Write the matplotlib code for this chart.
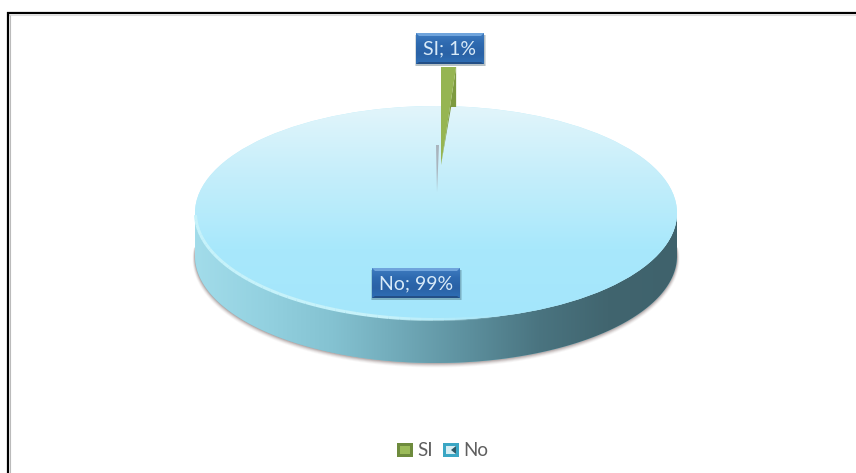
import numpy as np
import matplotlib
matplotlib.use("Agg")
import matplotlib.pyplot as plt
from matplotlib.colors import LinearSegmentedColormap
from matplotlib.patches import Ellipse, Polygon, Rectangle

categorias = ["SI", "No"]
porcentajes = [1, 99]

# pie geometry in picture pixels
CX, CY = 436, 213
RX, RY = 241, 107
ALTO = 43
APEX_Y = 192

plt.rcParams["font.family"] = ["Lato", "DejaVu Sans"]

fig = plt.figure(figsize=(8.56, 4.73), dpi=100, facecolor="white")
ax = fig.add_axes([0, 0, 1, 1])
ax.set_axis_off()


def gradiente(colores, extent, clip, vertical=True, zorder=2):
    cmap = LinearSegmentedColormap.from_list("g", colores)
    t = np.linspace(0, 1, 256)
    datos = t[:, None] if vertical else t[None, :]
    im = ax.imshow(datos, cmap=cmap, extent=extent, origin="upper", aspect="auto",
                   interpolation="bilinear", zorder=zorder)
    im.set_clip_path(clip)
    return im


def caja(x, y, w, h, texto):
    # etiqueta azul con bisel
    for i in range(4):
        ax.add_patch(Rectangle((x - 1 + i * 0.3, y + 2), w + 2, h, fc="#30505f", alpha=0.10, ec="none", zorder=7))
    r = Rectangle((x, y), w, h, fc="#2f69ad", ec="none", zorder=8)
    ax.add_patch(r)
    gradiente(["#3f7cc0", "#2e6ab0", "#2a62a6", "#2f6fb6"], (x, x + w, y + h, y), r, zorder=8)
    ax.add_patch(Polygon([(x, y), (x + w, y), (x + w - 3, y + 3), (x + 3, y + 3)], fc="#6fa4dc", ec="none", zorder=9))
    ax.add_patch(Polygon([(x, y + h), (x + w, y + h), (x + w - 3, y + h - 2), (x + 3, y + h - 2)], fc="#234f86", ec="none", zorder=9))
    ax.text(x + w / 2, y + h / 2 + 0.5, texto, color="#d8eaf8", fontsize=14, ha="center", va="center", zorder=10)


fracc = np.array(porcentajes) / sum(porcentajes)
ang_si = 2 * np.pi * fracc[0]

# sombra bajo la tarta
t = np.linspace(-0.1, np.pi + 0.1, 200)
for d, a in [(5, 0.05), (4, 0.08), (3, 0.12), (2, 0.16), (1, 0.2)]:
    xs = CX + (RX + d * 0.5) * np.cos(t)
    ys = CY + ALTO + d * 0.6 + (RY + d * 0.3) * np.sin(t)
    ax.add_patch(Polygon(np.c_[xs, ys], fc="#6b5a5a", alpha=a, ec="none", zorder=1))

# pared lateral
t = np.linspace(0, np.pi, 200)
xs = CX + RX * np.cos(t)
ys = CY + RY * np.sin(t)
lateral = Polygon(np.r_[np.c_[xs, ys + ALTO], np.c_[xs, ys][::-1]], fc="#7fc0d0", ec="none", zorder=2)
ax.add_patch(lateral)
gradiente(["#a2dcea", "#93d1e0", "#84c2d1", "#70a9b8", "#5c8f9d", "#4a7480", "#41656f", "#3f626c"],
          (CX - RX, CX + RX, CY + RY + ALTO, CY), lateral, vertical=False)

# cara superior
sup = Ellipse((CX, CY), 2 * RX, 2 * RY, fc="#b8ecfb", ec="none", zorder=3)
ax.add_patch(sup)
gradiente(["#e2f5fb", "#c4eefa", "#a8e8fc", "#a4e6fb"], (CX - RX, CX + RX, CY + RY, CY - RY), sup, zorder=3)

# borde claro frontal, sólo hacia la izquierda y desvaneciéndose
bordes = np.linspace(np.pi * 0.4, np.pi - 0.02, 41)
for a0, a1 in zip(bordes[:-1], bordes[1:]):
    tt = np.linspace(a0, a1, 6)
    ax.plot(CX + (RX - 0.5) * np.cos(tt), CY + (RY - 0.5) * np.sin(tt), color="#c6f2fa",
            lw=2.2, alpha=min(1, (a0 - bordes[0]) / 0.5), zorder=4, solid_capstyle="butt")

# cara interior gris del corte
ax.add_patch(Polygon([(CX + 1, APEX_Y), (CX, 145), (CX + 3, 145)], fc="#a9b4bd", ec="none", zorder=5))

# rebanada SI separada hacia arriba
sx, top, tip = CX + 5, 67, 165
ancho = RX * np.sin(ang_si)
ax.add_patch(Polygon([(sx + ancho, top), (sx + ancho, top + ALTO - 3), (sx + ancho - 5, top + ALTO - 3), (sx, tip)],
                     fc="#7d9a3f", ec="none", zorder=5))
ax.add_patch(Polygon([(sx, top), (sx + ancho, top), (sx, tip)], fc="#96b552", ec="none", zorder=6))

# etiquetas
caja(416, 33, 68, 31, f"{categorias[0]}; {porcentajes[0]}%")
caja(372, 268, 88, 30, f"{categorias[1]}; {porcentajes[1]}%")

# leyenda
ley_col = [("#6e8b3d", "#9bbb59"), ("#3aa6c4", "#d6eef4")]
ley_x = [397, 443]
for nombre, (borde, relleno), x in zip(categorias, ley_col, ley_x):
    ax.add_patch(Rectangle((x, 443), 16, 14, fc=borde, ec="none", zorder=5))
    ax.add_patch(Rectangle((x + 3, 446), 10, 8, fc=relleno, ec="none", zorder=6))
    if nombre == "No":
        ax.add_patch(Polygon([(x + 13, 446), (x + 13, 454), (x + 8, 450)], fc="#2f5a68", ec="none", zorder=7))
    ax.text(x + 20, 450, nombre, fontsize=13.5, color="#5f5f5f", va="center", ha="left", zorder=6)

# marco: sólo arriba y a la izquierda
ax.plot([7, 856], [13, 13], color="black", lw=1.6, zorder=12, solid_capstyle="butt")
ax.plot([7, 856], [15, 15], color="#dddddd", lw=0.8, zorder=11, solid_capstyle="butt")
ax.plot([8, 8], [12, 473], color="black", lw=1.6, zorder=12, solid_capstyle="butt")
ax.plot([9.8, 9.8], [15, 473], color="#bbbbbb", lw=0.8, zorder=11, solid_capstyle="butt")

ax.set_xlim(0, 856)
ax.set_ylim(473, 0)
fig.savefig("out.png", dpi=100)
